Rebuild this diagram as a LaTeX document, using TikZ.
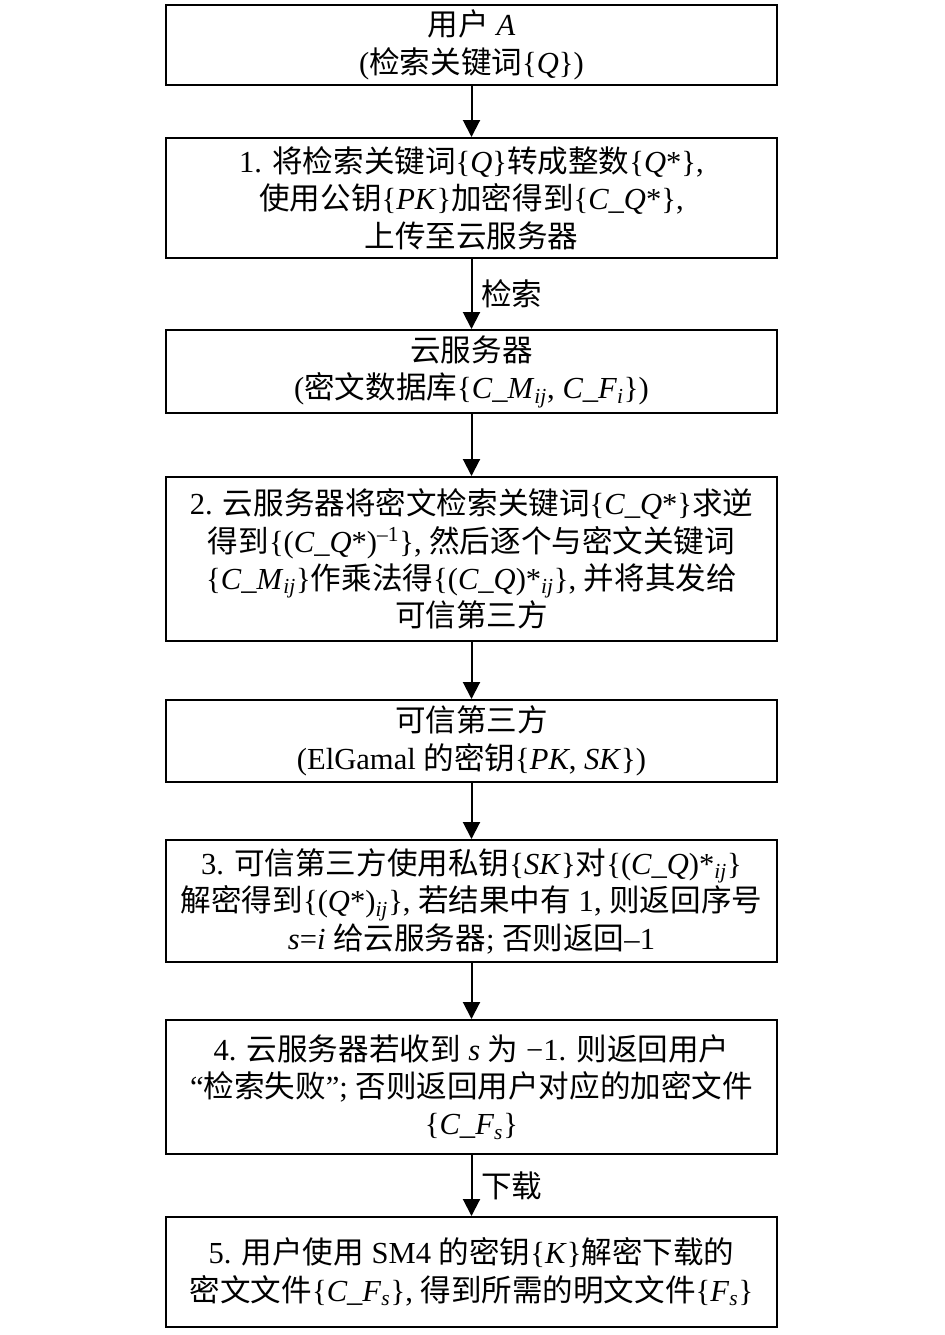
\documentclass[tikz,border=0pt]{standalone}
\usepackage{fontspec}
\setmainfont{Liberation Serif}
\newfontfamily\cjk{Noto Sans CJK SC}
\usetikzlibrary{arrows.meta}
\newcommand\zh[1]{{\cjk #1}}
\newcommand\ii[1]{\textit{#1}}
\newcommand\sub[1]{\textsubscript{\itshape #1}}

\tikzset{
  box/.style={draw, line width=0.04cm, minimum width=12.22cm, inner sep=0pt,
    align=center, font=\fontsize{17.4}{21.3}\selectfont},
  flow/.style={line width=0.04cm, -{Triangle[length=0.34cm,width=0.34cm]}},
  flowlabel/.style={right, inner sep=5pt, font=\fontsize{17.4}{21.3}\selectfont}
}

\begin{document}
\begin{tikzpicture}[x=0.02cm, y=-0.02cm]
	%%%%% START %%%%%
	\useasboundingbox (0, 0) rectangle (945, 1335);
	
	\node[box, minimum height=1.6cm] (user) at (471.5, 45)
		{\zh{用户} \ii{A}\\(\zh{检索关键词}\{\ii{Q}\})};
	\node[box, minimum height=2.4cm] (enc) at (471.5, 198)
		{1. \zh{将检索关键词}\{\ii{Q}\}\zh{转成整数}\{\ii{Q}*\},\\
		 \zh{使用公钥}\{\ii{PK}\}\zh{加密得到}\{\ii{C\_Q}*\},\\
		 \zh{上传至云服务器}};
	\node[box, minimum height=1.66cm] (cloud) at (471.5, 371.5)
		{\zh{云服务器}\\(\zh{密文数据库}\{\ii{C\_M}\sub{ij}, \ii{C\_F}\sub{i}\})};
	\node[box, minimum height=3.28cm] (inv) at (471.5, 559)
		{2. \zh{云服务器将密文检索关键词}\{\ii{C\_Q}*\}\zh{求逆}\\
		 \zh{得到}\{(\ii{C\_Q}*)\textsuperscript{--1}\}, \zh{然后逐个与密文关键词}\\
		 \{\ii{C\_M}\sub{ij}\}\zh{作乘法得}\{(\ii{C\_Q})*\sub{ij}\}, \zh{并将其发给}\\
		 \zh{可信第三方}};
	\node[box, minimum height=1.64cm] (ttp) at (471.5, 741)
		{\zh{可信第三方}\\(ElGamal \zh{的密钥}\{\ii{PK}, \ii{SK}\})};
	\node[box, minimum height=2.44cm] (dec) at (471.5, 901)
		{3. \zh{可信第三方使用私钥}\{\ii{SK}\}\zh{对}\{(\ii{C\_Q})*\sub{ij}\}\\
		 \zh{解密得到}\{(\ii{Q}*)\sub{ij}\}, \zh{若结果中有} 1, \zh{则返回序号}\\
		 \ii{s}=\ii{i} \zh{给云服务器}; \zh{否则返回}--1};
	\node[box, minimum height=2.68cm] (ret) at (471.5, 1087)
		{4. \zh{云服务器若收到} \ii{s} \zh{为} −1. \zh{则返回用户}\\
		 “\zh{检索失败}”; \zh{否则返回用户对应的加密文件}\\
		 \{\ii{C\_F}\sub{s}\}};
	\node[box, minimum height=2.2cm] (down) at (471.5, 1272)
		{5. \zh{用户使用} SM4 \zh{的密钥}\{\ii{K}\}\zh{解密下载的}\\
		 \zh{密文文件}\{\ii{C\_F}\sub{s}\}, \zh{得到所需的明文文件}\{\ii{F}\sub{s}\}};
	
	\draw[flow] (user) -- (enc);
	\draw[flow] (enc) -- node[flowlabel] (search) {\zh{检索}} (cloud);
	\draw[flow] (cloud) -- (inv);
	\draw[flow] (inv) -- (ttp);
	\draw[flow] (ttp) -- (dec);
	\draw[flow] (dec) -- (ret);
	\draw[flow] (ret) -- node[flowlabel] (fetch) {\zh{下载}} (down);
	
	%%%%% END %%%%%
\end{tikzpicture}
\end{document}
